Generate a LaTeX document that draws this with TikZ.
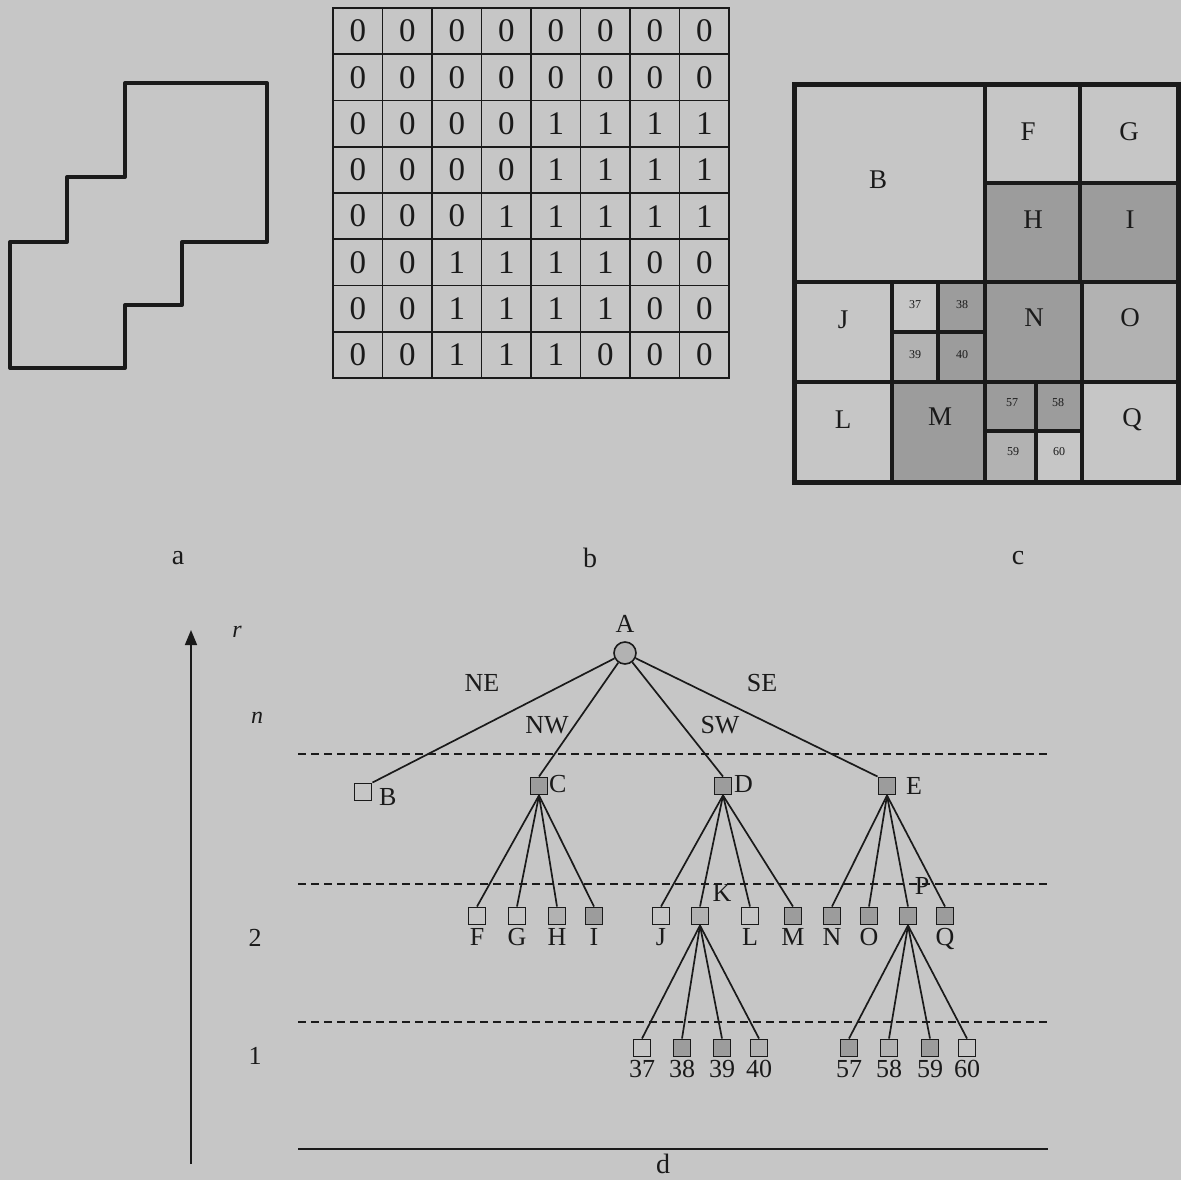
\documentclass[tikz,border=0pt]{standalone}
\usepackage{fontspec}
\setmainfont{Liberation Serif}
\usetikzlibrary{arrows.meta}
\definecolor{paper}{HTML}{C6C6C6}
\definecolor{shadeD}{HTML}{9C9C9C}
\definecolor{shadeL}{HTML}{B2B2B2}
\definecolor{ink}{HTML}{1A1A1A}
\tikzset{
  gridcell/.style={draw=ink, line width=1.6pt, minimum width=49.5pt, minimum height=46.25pt, inner sep=0pt, text=ink, font=\fontsize{33}{36}\selectfont},
  qcell/.style={draw=ink, line width=4pt},
  qlab/.style={text=ink, font=\fontsize{27}{30}\selectfont, inner sep=0pt},
  qsmall/.style={text=ink, font=\fontsize{12}{13}\selectfont, inner sep=0pt},
  tbox/.style={draw=ink, line width=1.9pt, minimum size=17pt, inner sep=0pt, fill=paper},
  tgray/.style={tbox, fill=shadeD},
  tlight/.style={tbox, fill=shadeL},
  tlab/.style={text=ink, font=\fontsize{26}{28}\selectfont, inner sep=1pt},
  edge/.style={draw=ink, line width=1.7pt},
  level/.style={draw=ink, line width=1.6pt, dash pattern=on 8pt off 5pt},
  caplab/.style={text=ink, font=\fontsize{28}{30}\selectfont, inner sep=0pt}
}
\begin{document}
\begin{tikzpicture}[x=1pt,y=-1pt]
\useasboundingbox (0,0) rectangle (1181,1180);
\fill[paper] (0,0) rectangle (1181,1180);

% ---------- panel a ----------
\draw[ink, line width=4pt, line join=round]
  (125,83) -- (267,83) -- (267,242) -- (182,242) -- (182,305) -- (125,305)
  -- (125,368) -- (10,368) -- (10,242) -- (67,242) -- (67,177) -- (125,177) -- cycle;
\node[caplab] (la) at (178,558) {a};

% ---------- panel b ----------
\foreach \rowvals [count=\r] in {
  {0,0,0,0,0,0,0,0},
  {0,0,0,0,0,0,0,0},
  {0,0,0,0,1,1,1,1},
  {0,0,0,0,1,1,1,1},
  {0,0,0,1,1,1,1,1},
  {0,0,1,1,1,1,0,0},
  {0,0,1,1,1,1,0,0},
  {0,0,1,1,1,0,0,0}} {
  \foreach \v [count=\c] in \rowvals {
    \node[gridcell] (g\r-\c) at ({333+49.5*(\c-0.5)},{8+46.25*(\r-0.5)}) {\v};
  }
}
\node[caplab] (lb) at (590,558) {b};

% ---------- panel c ----------
\filldraw[qcell, fill=paper]  (794,85) rectangle (985,282);
\filldraw[qcell, fill=paper]  (985,85) rectangle (1080,183);
\filldraw[qcell, fill=paper]  (1080,85) rectangle (1178,183);
\filldraw[qcell, fill=shadeD] (985,183) rectangle (1080,282);
\filldraw[qcell, fill=shadeD] (1080,183) rectangle (1178,282);
\filldraw[qcell, fill=paper]  (794,282) rectangle (892,382);
\filldraw[qcell, fill=paper]  (892,282) rectangle (938,332);
\filldraw[qcell, fill=shadeD] (938,282) rectangle (985,332);
\filldraw[qcell, fill=shadeL] (892,332) rectangle (938,382);
\filldraw[qcell, fill=shadeD] (938,332) rectangle (985,382);
\filldraw[qcell, fill=shadeD] (985,282) rectangle (1082,382);
\filldraw[qcell, fill=shadeL] (1082,282) rectangle (1178,382);
\filldraw[qcell, fill=paper]  (794,382) rectangle (892,482);
\filldraw[qcell, fill=shadeD] (892,382) rectangle (985,482);
\filldraw[qcell, fill=shadeD] (985,382) rectangle (1036,431);
\filldraw[qcell, fill=shadeD] (1036,382) rectangle (1082,431);
\filldraw[qcell, fill=shadeL] (985,431) rectangle (1036,482);
\filldraw[qcell, fill=paper]  (1036,431) rectangle (1082,482);
\filldraw[qcell, fill=paper]  (1082,382) rectangle (1178,482);
\draw[ink, line width=5pt] (794,85) rectangle (1178,482);
\node[qlab] (cB) at (878,180) {B};
\node[qlab] (cF) at (1028,132) {F};
\node[qlab] (cG) at (1129,132) {G};
\node[qlab] (cH) at (1033,220) {H};
\node[qlab] (cI) at (1130,220) {I};
\node[qlab] (cJ) at (843,320) {J};
\node[qsmall] (c37) at (915,305) {37};
\node[qsmall] (c38) at (962,305) {38};
\node[qsmall] (c39) at (915,355) {39};
\node[qsmall] (c40) at (962,355) {40};
\node[qlab] (cN) at (1034,318) {N};
\node[qlab] (cO) at (1130,318) {O};
\node[qlab] (cL) at (843,420) {L};
\node[qlab] (cM) at (940,417) {M};
\node[qsmall] (c57) at (1012,403) {57};
\node[qsmall] (c58) at (1058,403) {58};
\node[qsmall] (c59) at (1013,452) {59};
\node[qsmall] (c60) at (1059,452) {60};
\node[qlab] (cQ) at (1132,420) {Q};
\node[caplab] (lc) at (1018,558) {c};

% ---------- panel d ----------
\draw[ink, line width=1.6pt, -{Triangle[width=12pt,length=15pt]}] (191,1164) -- (191,630);
\node[tlab, font=\itshape\fontsize{24}{26}\selectfont] (lr) at (237,632) {r};
\node[tlab, font=\itshape\fontsize{24}{26}\selectfont] (ln) at (257,718) {n};
\node[tlab] (l2) at (255,938) {2};
\node[tlab] (l1) at (255,1056) {1};

\draw[level] (298,754) -- (1047,754);
\draw[level] (298,884) -- (1047,884);
\draw[level] (298,1022) -- (1047,1022);
\draw[ink, line width=2.2pt] (298,1149) -- (1048,1149);
\node[caplab] (ld) at (663,1164) {d};

% root
\node[draw=ink, line width=1.6pt, circle, minimum size=22pt, inner sep=0pt, fill=shadeL] (A) at (625,653) {};
\node[tlab] (lA) at (625,624) {A};

% level 3
\node[tbox]  (B) at (363,792) {};
\node[tgray] (C) at (539,786) {};
\node[tgray] (D) at (723,786) {};
\node[tgray] (E) at (887,786) {};
\node[tlab, anchor=west] (lB) at (378,797) {B};
\node[tlab, anchor=west] (lC) at (548,784) {C};
\node[tlab, anchor=west] (lD) at (733,784) {D};
\node[tlab, anchor=west] (lE) at (905,786) {E};

% level 2
\foreach \n/\x/\s in {F/477/tbox, G/517/tbox, H/557/tlight, I/594/tgray,
                      J/661/tbox, K/700/tlight, L/750/tbox, M/793/tgray,
                      N/832/tgray, O/869/tgray, P/908/tgray, Q/945/tgray} {
  \node[\s] (\n) at (\x,916) {};
}
\foreach \n in {F,G,H,I,J,L,M,N,O,Q} {
  \node[tlab, anchor=north, inner sep=0pt] (l\n) at ([yshift=-3pt]\n.south) {\n};
}
\node[tlab] (lK) at (722,893) {K};
\node[tlab] (lP) at (922,886) {P};

% level 1
\foreach \n/\x/\s in {37/642/tbox, 38/682/tgray, 39/722/tgray, 40/759/tlight,
                      57/849/tgray, 58/889/tlight, 59/930/tgray, 60/967/tbox} {
  \node[\s] (n\n) at (\x,1048) {};
  \node[tlab, anchor=north, inner sep=0pt] (ln\n) at ([yshift=-3pt]n\n.south) {\n};
}

% edges
\draw[edge] (A) -- (B.north east);
\draw[edge] (A) -- (C.north);
\draw[edge] (A) -- (D.north);
\draw[edge] (A) -- (E.north west);
\foreach \p/\cs in {C/{F,G,H,I}, D/{J,K,L,M}, E/{N,O,P,Q}} {
  \foreach \ch in \cs { \draw[edge] (\p.south) -- (\ch.north); }
}
\foreach \ch in {37,38,39,40} { \draw[edge] (K.south) -- (n\ch.north); }
\foreach \ch in {57,58,59,60} { \draw[edge] (P.south) -- (n\ch.north); }

% edge labels
\node[tlab] (lNE) at (482,683) {NE};
\node[tlab] (lNW) at (547,725) {NW};
\node[tlab] (lSW) at (720,725) {SW};
\node[tlab] (lSE) at (762,683) {SE};
\end{tikzpicture}
\end{document}
